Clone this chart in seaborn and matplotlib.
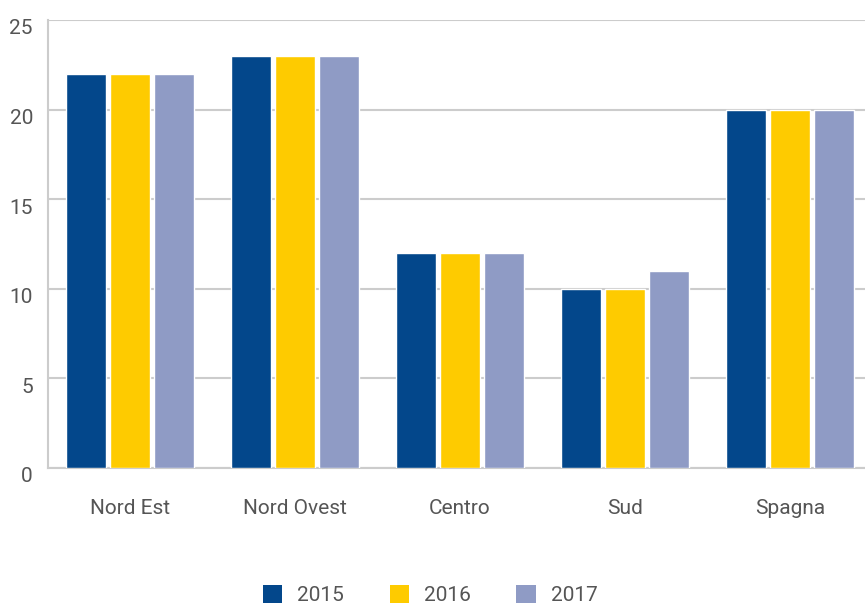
import pandas as pd
import matplotlib.pyplot as plt
import matplotlib.transforms as mtransforms
from matplotlib.patches import Patch
import seaborn as sns

# data
regions = ["Nord Est", "Nord Ovest", "Centro", "Sud", "Spagna"]
years = ["2015", "2016", "2017"]
v2015 = [22, 23, 12, 10, 20]
v2016 = [22, 23, 12, 10, 20]
v2017 = [22, 23, 12, 11, 20]
colors = ["#03478B", "#FECB00", "#8F9BC5"]

df = pd.DataFrame({"Regione": regions * 3,
                   "Anno": [y for y in years for _ in regions],
                   "Valore": v2015 + v2016 + v2017})

sns.set_theme(style="white")
plt.rcParams["font.family"] = ["Roboto", "DejaVu Sans"]
txt = "#555555"
grid = "#cccccc"
fs = 15

fig = plt.figure(figsize=(8.65, 6.04), dpi=100)
ax = fig.add_axes([47.5 / 865, 136 / 604, 825 / 865, 448 / 604])

sns.barplot(data=df, x="Regione", y="Valore", hue="Anno", palette=colors,
            width=0.8, gap=0.1, saturation=1, ax=ax, legend=False, zorder=3)

ax.set_ylim(0, 25)
ax.set_xlim(-0.5, 4.5)
ax.set_yticks([0, 5, 10, 15, 20, 25])
ax.yaxis.grid(True, color=grid, linewidth=1.5, zorder=0)
ax.set_axisbelow(True)
ax.set_xlabel("")
ax.set_ylabel("")

for side in ["top", "right"]:
    ax.spines[side].set_visible(False)
for side in ["left", "bottom"]:
    ax.spines[side].set_color(grid)
    ax.spines[side].set_linewidth(1.5)

ax.tick_params(axis="y", length=0, pad=10.5, labelsize=fs, labelcolor=txt)
ax.tick_params(axis="x", which="major", length=0, pad=22.5, labelsize=fs, labelcolor=txt)
ax.set_xticks([0.5, 1.5, 2.5, 3.5], minor=True)
ax.tick_params(axis="x", which="minor", direction="in", length=8,
               width=1.2, color=grid)

# y labels sit a little below their gridlines
offset = mtransforms.ScaledTranslation(0, -7 / 100, fig.dpi_scale_trans)
for lab in ax.get_yticklabels():
    lab.set_transform(lab.get_transform() + offset)

handles = [Patch(facecolor=c, edgecolor="none", label=y) for c, y in zip(colors, years)]
fig.legend(handles=handles, loc="center", bbox_to_anchor=(430 / 865, 9 / 604),
           ncol=3, frameon=False, fontsize=fs, labelcolor=txt,
           handlelength=0.92, handleheight=0.92, handletextpad=0.72,
           columnspacing=2.2)

fig.savefig("out.png", dpi=100)
